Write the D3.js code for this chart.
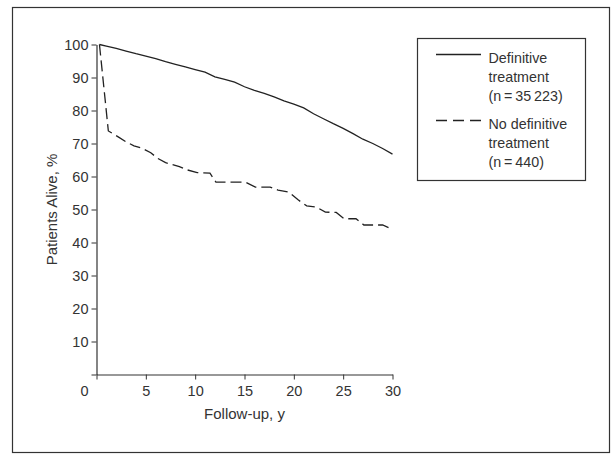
<!DOCTYPE html>
<html>
<head>
<meta charset="utf-8">
<script src="https://cdn.jsdelivr.net/npm/d3@7"></script>
<style>
  body { margin: 0; background: #fff; }
  svg { display: block; font-family: "Liberation Sans", Arial, sans-serif; }
  .axis path, .axis line { stroke: #333; }
  .axis text { fill: #333; font-size: 14.5px; }
</style>
</head>
<body>
<div id="chart"></div>
<script>
// Follow-up (years) and % alive
const definitiveYears = [0.3, 1, 2, 3, 4, 5, 6, 7, 8, 9, 10, 11, 12, 13, 14, 15, 16, 17, 18, 19, 20, 21, 22, 23, 24, 25, 26, 27, 28, 29, 30];
const definitiveAlive = [100, 99.5, 98.8, 98.0, 97.2, 96.5, 95.7, 94.8, 94.0, 93.2, 92.4, 91.6, 90.2, 89.4, 88.6, 87.2, 86.1, 85.2, 84.1, 82.9, 81.9, 80.8, 79.0, 77.5, 76.0, 74.6, 73.0, 71.3, 70.0, 68.5, 66.8];

const noDefinitiveYears = [0.3, 1.2, 2.2, 3.0, 3.8, 4.6, 5.5, 6.2, 7.0, 8.4, 9.2, 10.2, 11.5, 12.1, 15.1, 16.1, 17.6, 18.4, 19.5, 20.4, 21.3, 22.3, 23.2, 24.3, 25.1, 26.3, 27.1, 29.0, 29.9];
const noDefinitiveAlive = [100, 73.8, 72.0, 70.5, 69.3, 68.6, 67.2, 65.5, 64.2, 63.0, 62.0, 61.2, 61.0, 58.3, 58.3, 56.8, 56.8, 55.9, 55.3, 53.0, 51.1, 50.7, 49.2, 49.1, 47.2, 47.2, 45.3, 45.3, 44.1];

const xTicks = [0, 5, 10, 15, 20, 25, 30];
const yTicks = [0, 10, 20, 30, 40, 50, 60, 70, 80, 90, 100];

const legendItems = [
  { lines: ['Definitive', 'treatment', '(n\u2009=\u200935\u2009223)'], dash: null },
  { lines: ['No definitive', 'treatment', '(n\u2009=\u2009440)'], dash: '11,6' },
];

const width = 616;
const height = 455;

const svg = d3.select('#chart')
  .append('svg')
  .attr('width', width)
  .attr('height', height);

// outer frame
svg.append('rect')
  .attr('x', 12.5)
  .attr('y', 7.5)
  .attr('width', 597)
  .attr('height', 445)
  .attr('fill', 'none')
  .attr('stroke', '#333')
  .attr('stroke-width', 1.2);

// scales
const x = d3.scaleLinear().domain([0, 30]).range([96.5, 392.5]);
const y = d3.scaleLinear().domain([0, 100]).range([374.5, 44.5]);

// x axis
const xAxis = svg.append('g')
  .attr('class', 'axis x')
  .attr('transform', `translate(0, ${y(0)})`)
  .call(d3.axisBottom(x).tickValues(xTicks).tickSize(5).tickSizeOuter(0).tickPadding(6));

// the shared origin label sits left of the corner
xAxis.selectAll('.tick')
  .filter(d => d === 0)
  .select('text')
  .attr('x', -12.5);

// y axis
svg.append('g')
  .attr('class', 'axis y')
  .attr('transform', `translate(${x(0)}, 0)`)
  .call(d3.axisLeft(y).tickValues(yTicks).tickSize(5).tickSizeOuter(0).tickPadding(3)
    .tickFormat(d => (d === 0 ? '' : d)));

svg.selectAll('.axis .domain').attr('stroke-width', 1.2);

// axis titles
svg.append('text')
  .attr('x', (x(0) + x(30)) / 2)
  .attr('y', 418.5)
  .attr('text-anchor', 'middle')
  .attr('fill', '#333')
  .attr('font-size', 15)
  .text('Follow-up, y');

svg.append('text')
  .attr('transform', `translate(56.5, ${(y(0) + y(100)) / 2}) rotate(-90)`)
  .attr('text-anchor', 'middle')
  .attr('fill', '#333')
  .attr('font-size', 15)
  .text('Patients Alive, %');

// survival curves
const line = d3.line()
  .x(d => x(d[0]))
  .y(d => y(d[1]));

svg.append('path')
  .attr('d', line(d3.zip(definitiveYears, definitiveAlive)))
  .attr('fill', 'none')
  .attr('stroke', '#222')
  .attr('stroke-width', 1.3);

svg.append('path')
  .attr('d', line(d3.zip(noDefinitiveYears, noDefinitiveAlive)))
  .attr('fill', 'none')
  .attr('stroke', '#222')
  .attr('stroke-width', 1.3)
  .attr('stroke-dasharray', '11,5');

// legend
const legend = svg.append('g');

legend.append('rect')
  .attr('x', 417.5)
  .attr('y', 38.5)
  .attr('width', 168)
  .attr('height', 142)
  .attr('fill', '#fff')
  .attr('stroke', '#333')
  .attr('stroke-width', 1.2);

const rowTop = [63.3, 129.3];
const lineY = [54.5, 120.5];

legendItems.forEach((item, i) => {
  legend.append('line')
    .attr('x1', 436)
    .attr('x2', 481)
    .attr('y1', lineY[i])
    .attr('y2', lineY[i])
    .attr('stroke', '#222')
    .attr('stroke-width', 1.3)
    .attr('stroke-dasharray', item.dash);

  legend.append('text')
    .attr('fill', '#333')
    .attr('font-size', 14.3)
    .selectAll('tspan')
    .data(item.lines)
    .join('tspan')
    .attr('x', 488.5)
    .attr('y', (d, j) => rowTop[i] + j * 19)
    .text(d => d);
});
</script>
</body>
</html>
